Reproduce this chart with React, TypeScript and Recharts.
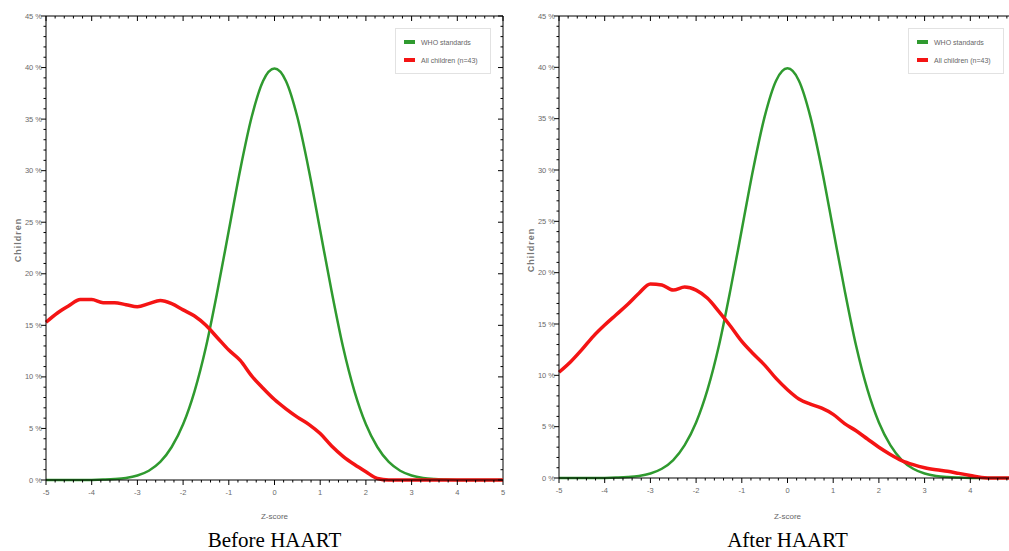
import { LineChart, Line, XAxis, YAxis, Legend, ReferenceLine } from 'recharts';

// z-score grid (step 0.25)
const zScores = [
  -5, -4.75, -4.5, -4.25, -4, -3.75, -3.5, -3.25, -3, -2.75, -2.5, -2.25, -2, -1.75, -1.5, -1.25, -1, -0.75, -0.5, -0.25,
  0, 0.25, 0.5, 0.75, 1, 1.25, 1.5, 1.75, 2, 2.25, 2.5, 2.75, 3, 3.25, 3.5, 3.75, 4, 4.25, 4.5, 4.75, 5,
];

// % children
const whoStandards = [
  0, 0, 0, 0, 0.01, 0.04, 0.09, 0.2, 0.44, 0.9, 1.75, 3.2, 5.4, 8.6, 12.9, 18.3, 24.2, 30.1, 35.2, 38.7,
  39.9, 38.7, 35.2, 30.1, 24.2, 18.3, 12.9, 8.6, 5.4, 3.2, 1.75, 0.9, 0.44, 0.2, 0.09, 0.04, 0.01, 0, 0, 0, 0,
];

const beforeHaart = [
  15.3, 16.2, 16.9, 17.5, 17.5, 17.2, 17.2, 17.0, 16.8, 17.1, 17.4, 17.1, 16.5, 15.9, 15.0, 13.8, 12.6, 11.6, 10.1, 8.9,
  7.8, 6.9, 6.1, 5.4, 4.5, 3.3, 2.3, 1.5, 0.8, 0.15, 0, 0, 0, 0, 0, 0, 0, 0, 0, 0, 0,
];

const afterHaart = [
  10.3, 11.3, 12.5, 13.8, 14.9, 15.9, 16.9, 18.0, 18.9, 18.8, 18.3, 18.6, 18.3, 17.5, 16.2, 14.8, 13.3, 12.1, 11.0, 9.7,
  8.6, 7.7, 7.2, 6.8, 6.2, 5.3, 4.6, 3.8, 3.0, 2.3, 1.7, 1.3, 1.0, 0.8, 0.65, 0.45, 0.25, 0.05, 0, 0, 0,
];

const xTickLabels = [-5, -4, -3, -2, -1, 0, 1, 2, 3, 4, 5];
const yTickLabels = [0, 5, 10, 15, 20, 25, 30, 35, 40, 45];
const seriesOrder = ['who', 'kids'];

// minor ticks: 0.2 on x, 1% on y
const xTicks = Array.from({ length: 51 }, (_, i) => Math.round((-5 + i * 0.2) * 10) / 10);
const yTicks = Array.from({ length: 46 }, (_, i) => i);

const GREEN = '#2f9a2f';
const RED = '#f41414';
const AXIS = '#000';
const TICK_TEXT = '#6a6a6a';
const SANS = '"Liberation Sans", Arial, sans-serif';

const PLOT_TOP = 16;
const PLOT_LEFT = 46;
const PLOT_WIDTH = 457;

// bottom axis tick, also draws the matching inward tick on the top frame
const XTick = ({ x, y, payload, maxLabel }: any) => {
  const major = xTickLabels.includes(payload.value);
  const len = major ? 5 : 2.5;
  return (
    <g>
      <line x1={x} x2={x} y1={y} y2={y + len} stroke={AXIS} strokeWidth={1} />
      <line x1={x} x2={x} y1={PLOT_TOP} y2={PLOT_TOP + len} stroke={AXIS} strokeWidth={1} />
      {major && payload.value <= maxLabel && (
        <text x={x} y={y + 15} textAnchor="middle" fontSize={7.5} fill={TICK_TEXT} fontFamily={SANS}>
          {payload.value}
        </text>
      )}
    </g>
  );
};

// left axis tick, also draws the matching inward tick on the right frame
const YTick = ({ x, y, payload }: any) => {
  const major = yTickLabels.includes(payload.value);
  const len = major ? 5 : 2.5;
  const right = x + PLOT_WIDTH;
  return (
    <g>
      <line x1={x} x2={x - len} y1={y} y2={y} stroke={AXIS} strokeWidth={1} />
      <line x1={right} x2={right - len} y1={y} y2={y} stroke={AXIS} strokeWidth={1} />
      {major && (
        <text x={x - 4} y={y + 2.5} textAnchor="end" fontSize={7.5} fill={TICK_TEXT} fontFamily={SANS}>
          {payload.value} %
        </text>
      )}
    </g>
  );
};

const LegendBox = ({ payload }: any) => {
  const items = [...(payload || [])].sort(
    (a: any, b: any) => seriesOrder.indexOf(a.dataKey) - seriesOrder.indexOf(b.dataKey)
  );
  return (
    <div
      style={{
        border: '1px solid #e2e2e2',
        background: '#fff',
        padding: '4px 6px 4px 8px',
        fontFamily: SANS,
        fontSize: 7,
        color: '#666',
      }}
    >
      {items.map((entry: any) => (
        <div key={entry.value} style={{ display: 'flex', alignItems: 'center', height: 18 }}>
          <span style={{ display: 'inline-block', width: 11, height: 3.5, background: entry.color, marginRight: 6 }} />
          {entry.value}
        </div>
      ))}
    </div>
  );
};

interface PanelProps {
  left: number;
  height: number;
  values: number[];
  caption: string;
  childrenLabelY: number;
  maxLabel: number;
}

function Panel({ left, height, values, caption, childrenLabelY, maxLabel }: PanelProps) {
  const data = zScores.map((z, i) => ({ z, who: whoStandards[i], kids: values[i] }));
  const axisLine = { stroke: AXIS, strokeWidth: 1 };

  return (
    <div style={{ position: 'absolute', left, top: 0, width: 520, height: 551 }}>
      <LineChart width={520} height={height} data={data} margin={{ top: PLOT_TOP, right: 17, bottom: 0, left: 0 }}>
        <XAxis
          dataKey="z"
          type="number"
          domain={[-5, 5]}
          ticks={xTicks}
          interval={0}
          height={20}
          axisLine={axisLine}
          tickLine={false}
          tickSize={0}
          tickMargin={0}
          tick={(p: any) => <XTick {...p} maxLabel={maxLabel} />}
        />
        <YAxis
          type="number"
          domain={[0, 45]}
          ticks={yTicks}
          interval={0}
          width={PLOT_LEFT}
          axisLine={axisLine}
          tickLine={false}
          tickSize={0}
          tickMargin={0}
          tick={(p: any) => <YTick {...p} />}
        />
        <ReferenceLine y={45} stroke={AXIS} strokeWidth={1} />
        <ReferenceLine x={5} stroke={AXIS} strokeWidth={1} />
        <Legend
          layout="vertical"
          align="center"
          verticalAlign="middle"
          wrapperStyle={{ left: 395, top: 28, width: 96 }}
          content={<LegendBox />}
        />
        <Line
          type="monotone"
          dataKey="who"
          name="WHO standards"
          stroke={GREEN}
          strokeWidth={2.5}
          dot={false}
          isAnimationActive={false}
        />
        <Line
          type="monotone"
          dataKey="kids"
          name="All children (n=43)"
          stroke={RED}
          strokeWidth={3.5}
          dot={false}
          isAnimationActive={false}
        />
      </LineChart>

      <div
        style={{
          position: 'absolute',
          left: 18,
          top: childrenLabelY,
          transform: 'translate(-50%, -50%) rotate(-90deg)',
          fontFamily: SANS,
          fontSize: 9,
          fontWeight: 'bold',
          letterSpacing: 1,
          color: '#777',
        }}
      >
        Children
      </div>
      <div
        style={{
          position: 'absolute',
          left: PLOT_LEFT,
          width: PLOT_WIDTH,
          top: 512,
          textAlign: 'center',
          fontFamily: SANS,
          fontSize: 8,
          color: '#666',
        }}
      >
        Z-score
      </div>
      <div
        style={{
          position: 'absolute',
          left: PLOT_LEFT,
          width: PLOT_WIDTH,
          top: 528,
          textAlign: 'center',
          fontFamily: '"Liberation Serif", "Times New Roman", serif',
          fontSize: 21,
          color: '#000',
        }}
      >
        {caption}
      </div>
    </div>
  );
}

export default function App() {
  return (
    <div
      style={{
        position: 'fixed',
        left: 0,
        top: 0,
        width: 1009,
        height: 551,
        overflow: 'hidden',
        background: '#fff',
      }}
    >
      <Panel left={0} height={500} values={beforeHaart} caption="Before HAART" childrenLabelY={240} maxLabel={5} />
      <Panel left={513} height={498} values={afterHaart} caption="After HAART" childrenLabelY={250} maxLabel={4} />
    </div>
  );
}
